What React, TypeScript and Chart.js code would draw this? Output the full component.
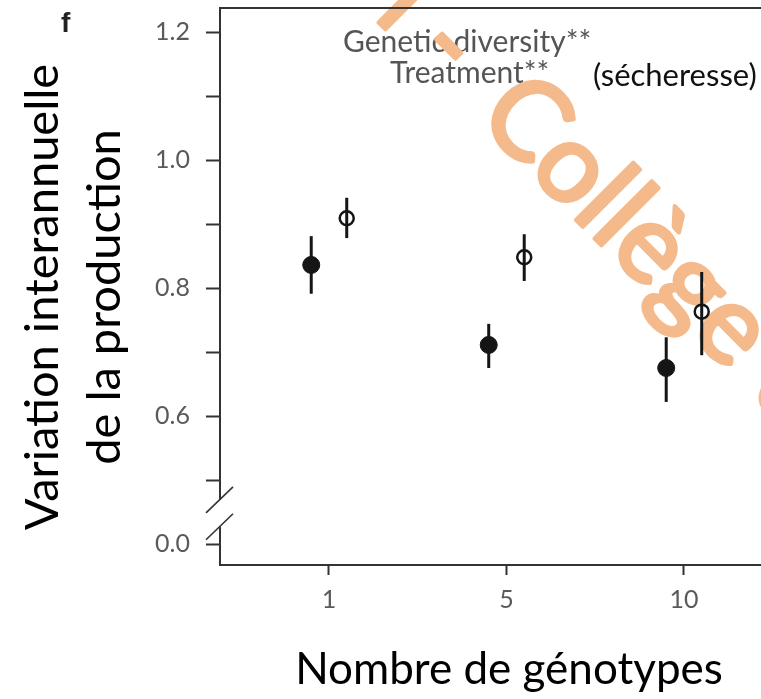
import React, { useEffect, useRef } from 'react';
import { Chart, registerables } from 'chart.js';

Chart.register(...registerables);

// ---- data ----
const GENOTYPES = ['1', '5', '10'];
// filled symbols (control)
const CONTROL_MEAN = [0.836, 0.711, 0.675];
const CONTROL_LOW = [0.791, 0.675, 0.622];
const CONTROL_HIGH = [0.881, 0.744, 0.723];
// open symbols (drought / sécheresse)
const DROUGHT_MEAN = [0.909, 0.848, 0.763];
const DROUGHT_LOW = [0.878, 0.811, 0.695];
const DROUGHT_HIGH = [0.941, 0.884, 0.825];
// broken y axis: the 0.0 tick is drawn at the 0.4 position of the scale
const Y_TICK_VALUES = [0.4, 0.5, 0.6, 0.7, 0.8, 0.9, 1.0, 1.1, 1.2];
const Y_TICK_LABELS = ['0.0', '', '0.6', '', '0.8', '', '1.0', '', '1.2'];
const Y_TITLE = ['Variation interannuelle', 'de la production'];
const X_TITLE = 'Nombre de génotypes';
const STATS = ['Genetic diversity**', 'Treatment**'];
const NOTE = '(sécheresse)';
const PANEL = 'f';
const WATERMARK_PRE = 'l -';
const WATERMARK_MAIN = 'Collège de France';

// ---- styles / layout ----
const DODGE = 0.1;
const INK = '#151515';
const AXIS = '#333333';
const TICK_TEXT = '#5a5a5a';
const BREAK_VALUES = [0.469, 0.427];
const WM_COLOR = '#F5BA8B';

const decor = {
  id: 'decor',
  beforeDatasetsDraw(chart: any) {
    const { ctx, scales } = chart;
    const xs = scales.x;
    const ys = scales.y;
    ctx.save();
    // statistics annotation
    ctx.fillStyle = '#555555';
    ctx.font = '400 30px Lato';
    ctx.textAlign = 'left';
    ctx.textBaseline = 'alphabetic';
    ctx.fillText(STATS[0], 343, 52);
    ctx.fillText(STATS[1], 390, 83);
    ctx.fillStyle = '#111111';
    ctx.font = '400 31px Lato';
    ctx.fillText(NOTE, 593, 86);
    // watermark
    ctx.save();
    ctx.fillStyle = WM_COLOR;
    ctx.strokeStyle = WM_COLOR;
    ctx.lineWidth = 4;
    ctx.lineJoin = 'round';
    ctx.font = '400 110px Lato';
    ctx.translate(549, 193);
    ctx.rotate(Math.PI / 4);
    const oc = ctx.measureText('C').width + ctx.measureText('o').width / 2;
    const hy = ctx.measureText('-').width / 2;
    ctx.textAlign = 'left';
    ctx.fillText(WATERMARK_MAIN, -oc, 0);
    ctx.strokeText(WATERMARK_MAIN, -oc, 0);
    ctx.textAlign = 'right';
    ctx.fillText(WATERMARK_PRE, -oc - 70 + hy, 0);
    ctx.strokeText(WATERMARK_PRE, -oc - 70 + hy, 0);
    ctx.restore();
    // error bars
    ctx.strokeStyle = INK;
    ctx.lineWidth = 3;
    const series = [
      { lo: CONTROL_LOW, hi: CONTROL_HIGH, dx: -DODGE },
      { lo: DROUGHT_LOW, hi: DROUGHT_HIGH, dx: DODGE },
    ];
    series.forEach((s) => {
      s.lo.forEach((lo, i) => {
        const x = xs.getPixelForValue(i + s.dx);
        ctx.beginPath();
        ctx.moveTo(x, ys.getPixelForValue(lo));
        ctx.lineTo(x, ys.getPixelForValue(s.hi[i]));
        ctx.stroke();
      });
    });
    ctx.restore();
  },
  afterDraw(chart: any) {
    const { ctx, chartArea, scales } = chart;
    const ys = scales.y;
    ctx.save();
    // top frame line
    ctx.strokeStyle = AXIS;
    ctx.lineWidth = 2;
    ctx.beginPath();
    ctx.moveTo(chartArea.left - 1, chartArea.top);
    ctx.lineTo(chartArea.right + 2, chartArea.top);
    ctx.stroke();
    // axis break
    const yA = ys.getPixelForValue(BREAK_VALUES[0]);
    const yB = ys.getPixelForValue(BREAK_VALUES[1]);
    const xa = chartArea.left;
    ctx.fillStyle = '#ffffff';
    ctx.fillRect(xa - 3, yA, 6, yB - yA);
    ctx.lineWidth = 1.6;
    [yA, yB].forEach((y) => {
      ctx.beginPath();
      ctx.moveTo(xa - 14, y + 13);
      ctx.lineTo(xa + 13, y - 13);
      ctx.stroke();
    });
    // panel letter
    ctx.fillStyle = '#222222';
    ctx.font = '700 28px "Liberation Sans"';
    ctx.textAlign = 'left';
    ctx.textBaseline = 'alphabetic';
    ctx.fillText(PANEL, 61, 32);
    // axis titles
    ctx.fillStyle = '#000000';
    ctx.font = '400 47px Lato';
    ctx.textAlign = 'center';
    const yMid = 297;
    [58, 120].forEach((bx, i) => {
      ctx.save();
      ctx.translate(bx, yMid);
      ctx.rotate(-Math.PI / 2);
      ctx.fillText(Y_TITLE[i], 0, 0);
      ctx.restore();
    });
    ctx.font = '400 44px Lato';
    ctx.fillText(X_TITLE, 509, 684);
    ctx.restore();
  },
};

export default function App() {
  const ref = useRef<HTMLCanvasElement>(null);
  useEffect(() => {
    const canvas = ref.current!;
    const chart = new Chart(canvas, {
      type: 'scatter',
      data: {
        datasets: [
          {
            label: 'Contrôle',
            data: CONTROL_MEAN.map((y, i) => ({ x: i - DODGE, y })),
            pointRadius: 8.5,
            pointBackgroundColor: INK,
            pointBorderColor: INK,
            pointBorderWidth: 1,
          },
          {
            label: 'Sécheresse',
            data: DROUGHT_MEAN.map((y, i) => ({ x: i + DODGE, y })),
            pointRadius: 7,
            pointBackgroundColor: 'rgba(0,0,0,0)',
            pointBorderColor: INK,
            pointBorderWidth: 2.5,
          },
        ],
      },
      options: {
        responsive: false,
        animation: false,
        layout: { autoPadding: false, padding: { top: 8, left: 0, right: 0, bottom: 0 } },
        plugins: { legend: { display: false }, tooltip: { enabled: false } },
        scales: {
          x: {
            type: 'linear',
            min: -0.614,
            max: 2.434,
            afterBuildTicks: (s: any) => {
              s.ticks = GENOTYPES.map((_, i) => ({ value: i }));
            },
            afterFit: (s: any) => {
              s.height = 134;
              s.paddingLeft = 0;
              s.paddingRight = 0;
            },
            ticks: {
              autoSkip: false,
              maxRotation: 0,
              padding: 10,
              color: TICK_TEXT,
              font: { family: 'Lato', size: 25 },
              callback: (_v: any, i: number) => GENOTYPES[i],
            },
            grid: {
              display: true,
              drawOnChartArea: false,
              drawTicks: true,
              tickLength: 10,
              tickColor: AXIS,
              tickWidth: 2,
            },
            border: { display: true, color: AXIS, width: 2 },
          },
          y: {
            type: 'linear',
            min: 0.3672,
            max: 1.2375,
            afterBuildTicks: (s: any) => {
              s.ticks = Y_TICK_VALUES.map((v) => ({ value: v }));
            },
            afterFit: (s: any) => {
              s.width = 220;
              s.paddingTop = 0;
              s.paddingBottom = 0;
            },
            ticks: {
              autoSkip: false,
              padding: 16,
              color: TICK_TEXT,
              font: { family: 'Lato', size: 25 },
              callback: (_v: any, i: number) => Y_TICK_LABELS[i],
            },
            grid: {
              display: true,
              drawOnChartArea: false,
              drawTicks: true,
              tickLength: 14,
              tickColor: AXIS,
              tickWidth: 2,
            },
            border: { display: true, color: AXIS, width: 2 },
          },
        },
      },
      plugins: [decor],
    } as any);
    return () => chart.destroy();
  }, []);
  return (
    <div
      style={{
        position: 'absolute',
        left: 0,
        top: 0,
        width: 761,
        height: 699,
        overflow: 'hidden',
        background: '#ffffff',
      }}
    >
      <canvas ref={ref} width={761} height={699} style={{ display: 'block' }} />
    </div>
  );
}
